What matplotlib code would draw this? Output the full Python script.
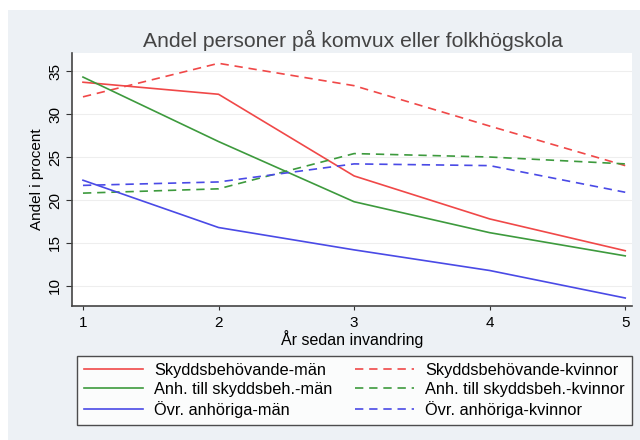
import matplotlib
matplotlib.use('Agg')
import matplotlib.pyplot as plt
from matplotlib.patches import Rectangle

plt.rcParams['font.family'] = ['Liberation Sans', 'DejaVu Sans']

years = [1, 2, 3, 4, 5]
skydd_man = [33.7, 32.3, 22.8, 17.8, 14.1]
skydd_kvinnor = [32.0, 35.9, 33.3, 28.6, 24.0]
anh_man = [34.3, 26.8, 19.8, 16.2, 13.5]
anh_kvinnor = [20.8, 21.3, 25.4, 25.0, 24.2]
ovr_man = [22.3, 16.8, 14.2, 11.8, 8.6]
ovr_kvinnor = [21.7, 22.1, 24.2, 24.0, 20.9]

red = '#f04848'
green = '#3d9a3d'
blue = '#4a4ae6'
dash = (0, (5, 3.5))

fig = plt.figure(figsize=(6.4, 4.4), dpi=100, facecolor='white')
# light grey background panel (white strip at top and left as in original)
fig.patches.append(Rectangle((8/640, 0), 1, 1 - 10/440, transform=fig.transFigure,
                             facecolor='#edf1f5', edgecolor='none', zorder=-1))

ax = fig.add_axes([72/640, 1 - 306/440, 560/640, 253/440])
ax.set_facecolor('white')

ax.plot(years, skydd_man, color=red, lw=1.2, label='Skyddsbehövande-män')
ax.plot(years, skydd_kvinnor, color=red, lw=1.2, ls=dash, label='Skyddsbehövande-kvinnor')
ax.plot(years, anh_man, color=green, lw=1.2, label='Anh. till skyddsbeh.-män')
ax.plot(years, anh_kvinnor, color=green, lw=1.2, ls=dash, label='Anh. till skyddsbeh.-kvinnor')
ax.plot(years, ovr_man, color=blue, lw=1.2, label='Övr. anhöriga-män')
ax.plot(years, ovr_kvinnor, color=blue, lw=1.2, ls=dash, label='Övr. anhöriga-kvinnor')

ax.set_xlim(0.919, 5.05)
ax.set_ylim(7.67, 37.1)
ax.set_xticks(years)
ax.set_yticks([10, 15, 20, 25, 30, 35])
ax.tick_params(axis='y', labelrotation=90, labelsize=11, length=4, color='#333333', pad=3)
ax.tick_params(axis='x', labelsize=11, length=3, color='#333333', pad=4)
for lab in ax.get_yticklabels():
    lab.set_va('center')
ax.grid(axis='y', color='#eeeeee', lw=0.8)
ax.set_axisbelow(True)

for side in ['top', 'right']:
    ax.spines[side].set_visible(False)
for side in ['left', 'bottom']:
    ax.spines[side].set_color('#444444')
    ax.spines[side].set_linewidth(1.2)

ax.set_ylabel('Andel i procent', fontsize=11, labelpad=3)
ax.set_xlabel('År sedan invandring', fontsize=11.5, labelpad=0)
fig.text(353/640, 1 - 40/440, 'Andel personer på komvux eller folkhögskola',
         ha='center', va='center', fontsize=15.2, color='#444444')

# legend ordered row-wise: män left column, kvinnor right column
handles, labels = ax.get_legend_handles_labels()
order = [0, 2, 4, 1, 3, 5]
leg = fig.legend([handles[i] for i in order], [labels[i] for i in order],
                 ncol=2, loc='upper left',
                 bbox_to_anchor=(77/640, 1 - 356/440),
                 borderaxespad=0, fontsize=11.8, frameon=True, fancybox=False,
                 edgecolor='#222222', handlelength=3.6, handletextpad=0.67,
                 labelspacing=0.25, borderpad=0.42, columnspacing=1.4)
leg.get_frame().set_linewidth(1.0)

fig.savefig('out.png', dpi=100, facecolor=fig.get_facecolor())
